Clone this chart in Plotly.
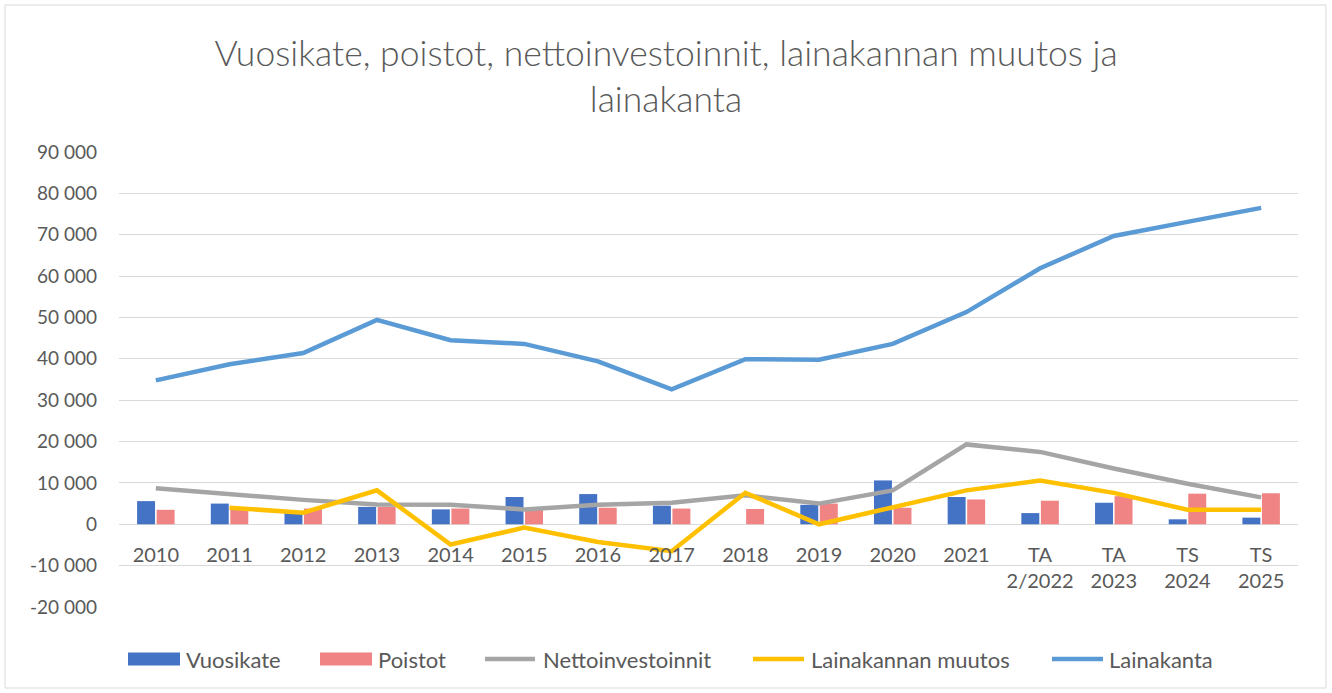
import plotly.graph_objects as go

categories = ["2010", "2011", "2012", "2013", "2014", "2015", "2016", "2017", "2018",
              "2019", "2020", "2021", "TA<br>2/2022", "TA<br>2023", "TS<br>2024", "TS<br>2025"]

vuosikate = [5600, 5000, 2700, 4200, 3600, 6600, 7300, 4500, 0, 4700, 10600, 6600, 2700, 5200, 1200, 1600]
poistot = [3500, 3500, 3800, 4200, 3800, 3800, 4000, 3800, 3700, 5000, 4000, 6000, 5700, 6800, 7400, 7500]
nettoinvestoinnit = [8700, 7300, 5900, 4800, 4700, 3600, 4700, 5200, 7000, 5000, 8200, 19300, 17500, 13500, 9800, 6500]
lainakannan_muutos = [None, 4000, 2800, 8200, -4900, -800, -4300, -6500, 7600, 0, 4100, 8200, 10600, 7600, 3500, 3500]
lainakanta = [34800, 38700, 41400, 49400, 44500, 43600, 39400, 32600, 39900, 39800, 43600, 51300, 61900, 69700, 73100, 76500]

y_tickvals = [-20000, -10000, 0, 10000, 20000, 30000, 40000, 50000, 60000, 70000, 80000, 90000]
y_ticktext = ["-20 000", "-10 000", "0", "10 000", "20 000", "30 000", "40 000", "50 000",
              "60 000", "70 000", "80 000", "90 000"]

FONT = "Lato"
TXT = "#595959"
W, H = 1332, 693
ML, MR, MT, MB = 119, 34, 152, 86
PW, PH = W - ML - MR, H - MT - MB


def px(x):
    return (x - ML) / PW


def py(y):
    return (H - MB - y) / PH


series = [
    dict(name="Vuosikate", kind="bar", color="#4472C4", y=vuosikate),
    dict(name="Poistot", kind="bar", color="#F08484", y=poistot),
    dict(name="Nettoinvestoinnit", kind="line", color="#A5A5A5", y=nettoinvestoinnit),
    dict(name="Lainakannan muutos", kind="line", color="#FFC000", y=lainakannan_muutos),
    dict(name="Lainakanta", kind="line", color="#5B9BD5", y=lainakanta),
]

fig = go.Figure()
for s in series:
    if s["kind"] == "bar":
        fig.add_trace(go.Bar(x=categories, y=s["y"], name=s["name"], marker_color=s["color"],
                             marker_line_width=0))
    else:
        fig.add_trace(go.Scatter(x=categories, y=s["y"], name=s["name"], mode="lines",
                                 line=dict(color=s["color"], width=4.5)))

ymin, ymax = -20000, 90000
fig.update_layout(
    width=W, height=H,
    margin=dict(l=ML, r=MR, t=MT, b=MB),
    paper_bgcolor="white", plot_bgcolor="white",
    font=dict(family=FONT, size=20, color=TXT),
    title=dict(text="Vuosikate, poistot, nettoinvestoinnit, lainakannan muutos ja<br>lainakanta",
               x=0.5, xanchor="center", y=0.905, yanchor="middle",
               font=dict(family=FONT, size=35.5, color=TXT, weight=300)),
    barmode="group", bargap=0.47, bargroupgap=0.08,
    showlegend=False,
    xaxis=dict(anchor="free", position=(0 - ymin) / (ymax - ymin), showline=False,
               showgrid=False, ticks="", tickfont=dict(size=20, color=TXT),
               ticklabelstandoff=17, tickangle=0),
    yaxis=dict(range=[ymin, ymax], tickvals=y_tickvals, ticktext=y_ticktext,
               showgrid=True, gridcolor="#D9D9D9", gridwidth=1, zeroline=False,
               showline=False, ticks="", tickfont=dict(size=19, color=TXT),
               ticklabelstandoff=21),
)

# chart border
fig.add_shape(type="rect", xref="paper", yref="paper",
              x0=px(5), x1=px(1326), y0=py(688), y1=py(5),
              line=dict(color="#D9D9D9", width=1), fillcolor="rgba(0,0,0,0)", layer="below")

# custom legend (Excel style)
legend_sym = [(128, 180), (320, 372), (483, 537), (751, 806), (1050, 1105)]
legend_txt = [184, 376, 541, 809, 1107]
LY = 659
for s, (a, b), t in zip(series, legend_sym, legend_txt):
    if s["kind"] == "bar":
        fig.add_shape(type="rect", xref="paper", yref="paper", x0=px(a), x1=px(b),
                      y0=py(LY + 6.5), y1=py(LY - 6.5), fillcolor=s["color"], line_width=0)
    else:
        fig.add_shape(type="line", xref="paper", yref="paper", x0=px(a + 2), x1=px(b - 2),
                      y0=py(LY), y1=py(LY), line=dict(color=s["color"], width=4.5))
    fig.add_annotation(text=s["name"], xref="paper", yref="paper", x=px(t), y=py(LY),
                       xanchor="left", yanchor="middle", showarrow=False,
                       font=dict(family=FONT, size=22, color=TXT))

fig.write_html("out.html", config={"displayModeBar": False},
               post_script="document.body.style.margin='0px';")
